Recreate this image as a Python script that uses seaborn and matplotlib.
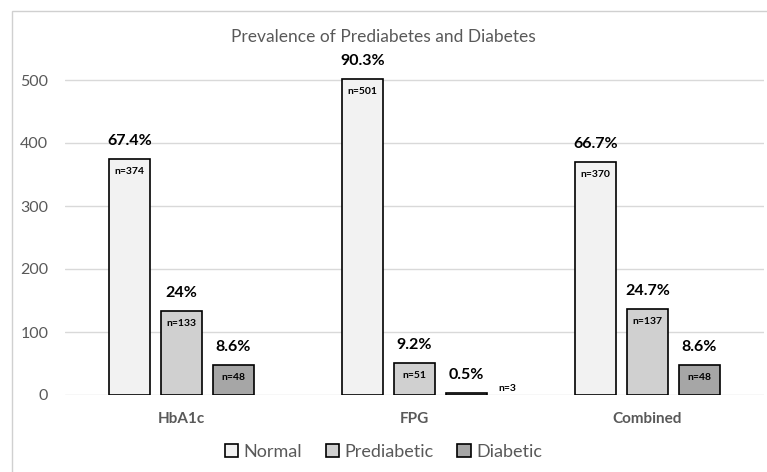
import matplotlib
matplotlib.use("Agg")
import matplotlib.pyplot as plt
from matplotlib.patches import Rectangle
import seaborn as sns
import pandas as pd

# data
tests = ["HbA1c", "FPG", "Combined"]
groups = ["Normal", "Prediabetic", "Diabetic"]
normal_n = [374, 501, 370]
prediabetic_n = [133, 51, 137]
diabetic_n = [48, 3, 48]
normal_pct = ["67.4%", "90.3%", "66.7%"]
prediabetic_pct = ["24%", "9.2%", "24.7%"]
diabetic_pct = ["8.6%", "0.5%", "8.6%"]
bar_colors = ["#f2f2f2", "#d0d0d0", "#a6a6a6"]

rows = []
for i, t in enumerate(tests):
    for g, n, p in zip(groups, [normal_n, prediabetic_n, diabetic_n],
                       [normal_pct, prediabetic_pct, diabetic_pct]):
        rows.append({"test": t, "group": g, "n": n[i], "pct": p[i]})
df = pd.DataFrame(rows)

sns.set_style("white")
plt.rcParams["font.family"] = ["Lato", "DejaVu Sans"]

fig = plt.figure(figsize=(7.67, 4.72), dpi=100)
ax = fig.add_axes([65 / 767, 1 - 395 / 472, 699 / 767, 333 / 472])

sns.barplot(data=df, x="test", y="n", hue="group", order=tests, hue_order=groups,
            palette=bar_colors, width=0.67, gap=0.21, edgecolor="black",
            linewidth=1.2, saturation=1, ax=ax, legend=True)

ax.set_xlim(-0.5, 2.5)
ax.set_ylim(0, 333 / 0.63)
ax.set_yticks([0, 100, 200, 300, 400, 500])
ax.yaxis.grid(True, color="#d9d9d9", linewidth=1)
ax.set_axisbelow(True)
for s in ax.spines.values():
    s.set_visible(False)
ax.tick_params(axis="y", length=0, pad=12, labelsize=11.5, labelcolor="#595959")
ax.tick_params(axis="x", length=0, pad=12, labelsize=11, labelcolor="#595959")
for lbl in ax.get_xticklabels():
    lbl.set_fontweight("bold")
ax.set_xlabel("")
ax.set_ylabel("")

# labels on bars
for g, cont in zip(groups, ax.containers):
    sub = df[df["group"] == g].set_index("test").loc[tests]
    for bar, (_, r) in zip(cont, sub.iterrows()):
        cx = bar.get_x() + bar.get_width() / 2
        h = bar.get_height()
        ax.annotate(r["pct"], (cx, h), xytext=(0, 13), textcoords="offset points",
                    ha="center", va="center", fontsize=11.5, fontweight="bold", color="black")
        if h > 20:
            ax.annotate(f"n={r['n']}", (cx, h), xytext=(0, -9), textcoords="offset points",
                        ha="center", va="center", fontsize=7.5, fontweight="bold", color="black")
        else:
            ax.annotate(f"n={r['n']}", (cx, h), xytext=(29, 3), textcoords="offset points",
                        ha="center", va="center", fontsize=7.5, fontweight="bold", color="black")

fig.text(0.5, 1 - 37 / 472, "Prevalence of Prediabetes and Diabetes", ha="center", va="center",
         fontsize=12.5, color="#595959")

handles, labels = ax.get_legend_handles_labels()
ax.get_legend().remove()
leg = fig.legend(handles, labels, loc="center", bbox_to_anchor=(0.5, 1 - 452 / 472), ncol=3,
                 frameon=False, fontsize=13, handlelength=0.75, handleheight=0.75,
                 handletextpad=0.3, columnspacing=1.3)
for t in leg.get_texts():
    t.set_color("#595959")

# chart border
fig.patches.append(Rectangle((12 / 767, -0.1), 1.2, 1 - 11 / 472 + 0.1, transform=fig.transFigure,
                             fill=False, edgecolor="#d0d0d0", linewidth=1))

fig.savefig("out.png", dpi=100)
